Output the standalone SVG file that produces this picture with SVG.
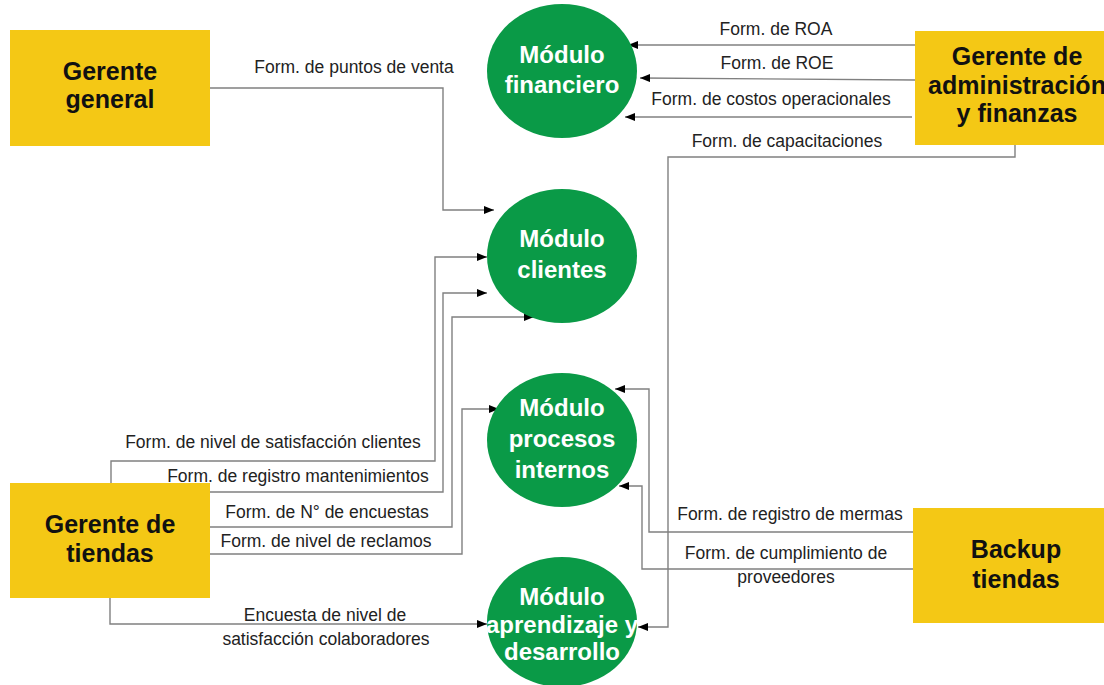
<svg xmlns="http://www.w3.org/2000/svg" width="1104" height="685" viewBox="0 0 1104 685">
<defs>
<marker id="arr" viewBox="0 0 10 8" refX="10" refY="4" markerWidth="10" markerHeight="8" markerUnits="userSpaceOnUse" orient="auto">
<path d="M0,0 L10,4 L0,8 Z" fill="#000"/>
</marker>
</defs>
<style>
.box{fill:#F4C815}
.mod{fill:#0A9A47}
.bt{font-family:"Liberation Sans",Arial,sans-serif;font-weight:bold;font-size:25px;fill:#111;text-anchor:middle}
.mt{font-family:"Liberation Sans",Arial,sans-serif;font-weight:bold;font-size:24px;fill:#fff;text-anchor:middle}
.lb{font-family:"Liberation Sans",Arial,sans-serif;font-size:17.5px;fill:#222;text-anchor:middle}
.ln{fill:none;stroke:#808080;stroke-width:1.4;marker-end:url(#arr)}
</style>
<rect width="1104" height="685" fill="#fff"/>
<g id="connectors">
<path class="ln" d="M210,88 H443 V210 H494"/>
<path class="ln" d="M111,483 V461 H435 V257 H487"/>
<path class="ln" d="M210,492 H443 V293 H487"/>
<path class="ln" d="M210,527 H452 V317 H534"/>
<path class="ln" d="M210,554 H462 V409 H499"/>
<path class="ln" d="M110,598 V624 H487"/>
<path class="ln" d="M915,45 H628"/>
<path class="ln" d="M915,80 L640,78"/>
<path class="ln" d="M912,117 H625"/>
<path class="ln" d="M1015,145 V157 H668 V627 H638"/>
<path class="ln" d="M913,532 H649 V389 H615"/>
<path class="ln" d="M917,569 H642 V486 H619"/>
<text class="lb" x="354" y="73">Form. de puntos de venta</text>
<text class="lb" x="776" y="35">Form. de ROA</text>
<text class="lb" x="777" y="69">Form. de ROE</text>
<text class="lb" x="771" y="105">Form. de costos operacionales</text>
<text class="lb" x="787" y="147">Form. de capacitaciones</text>
<text class="lb" x="273" y="448">Form. de nivel de satisfacción clientes</text>
<text class="lb" x="298" y="482">Form. de registro mantenimientos</text>
<text class="lb" x="327" y="518">Form. de N° de encuestas</text>
<text class="lb" x="326" y="547">Form. de nivel de reclamos</text>
<text class="lb" x="325" y="621">Encuesta de nivel de</text>
<text class="lb" x="326" y="645">satisfacción colaboradores</text>
<text class="lb" x="790" y="520">Form. de registro de mermas</text>
<text class="lb" x="786" y="559">Form. de cumplimiento de</text>
<text class="lb" x="786" y="583">proveedores</text>
</g>
<g id="gerente-general">
<rect class="box" x="10" y="30" width="200" height="116"/>
<text class="bt" x="110" y="80">Gerente</text>
<text class="bt" x="110" y="108">general</text>
</g>
<g id="gerente-admin">
<rect class="box" x="915" y="31" width="195" height="114"/>
<text class="bt" x="1017" y="65">Gerente de</text>
<text class="bt" x="1017" y="94">administración</text>
<text class="bt" x="1017" y="122">y finanzas</text>
</g>
<g id="gerente-tiendas">
<rect class="box" x="10" y="483" width="200" height="115"/>
<text class="bt" x="110" y="533">Gerente de</text>
<text class="bt" x="110" y="562">tiendas</text>
</g>
<g id="backup-tiendas">
<rect class="box" x="913" y="508" width="195" height="115"/>
<text class="bt" x="1016" y="558">Backup</text>
<text class="bt" x="1016" y="588">tiendas</text>
</g>
<g id="modulo-financiero">
<ellipse class="mod" cx="562" cy="71" rx="75" ry="67"/>
<text class="mt" x="562" y="63">Módulo</text>
<text class="mt" x="562" y="93">financiero</text>
</g>
<g id="modulo-clientes">
<ellipse class="mod" cx="562" cy="256" rx="75" ry="67"/>
<text class="mt" x="562" y="247">Módulo</text>
<text class="mt" x="562" y="278">clientes</text>
</g>
<g id="modulo-procesos">
<ellipse class="mod" cx="562" cy="440" rx="75" ry="67"/>
<text class="mt" x="562" y="416">Módulo</text>
<text class="mt" x="562" y="447">procesos</text>
<text class="mt" x="562" y="478">internos</text>
</g>
<g id="modulo-aprendizaje">
<ellipse class="mod" cx="562" cy="622" rx="75" ry="65"/>
<text class="mt" x="562" y="605">Módulo</text>
<text class="mt" x="562" y="633">aprendizaje y</text>
<text class="mt" x="562" y="660">desarrollo</text>
</g>
</svg>
